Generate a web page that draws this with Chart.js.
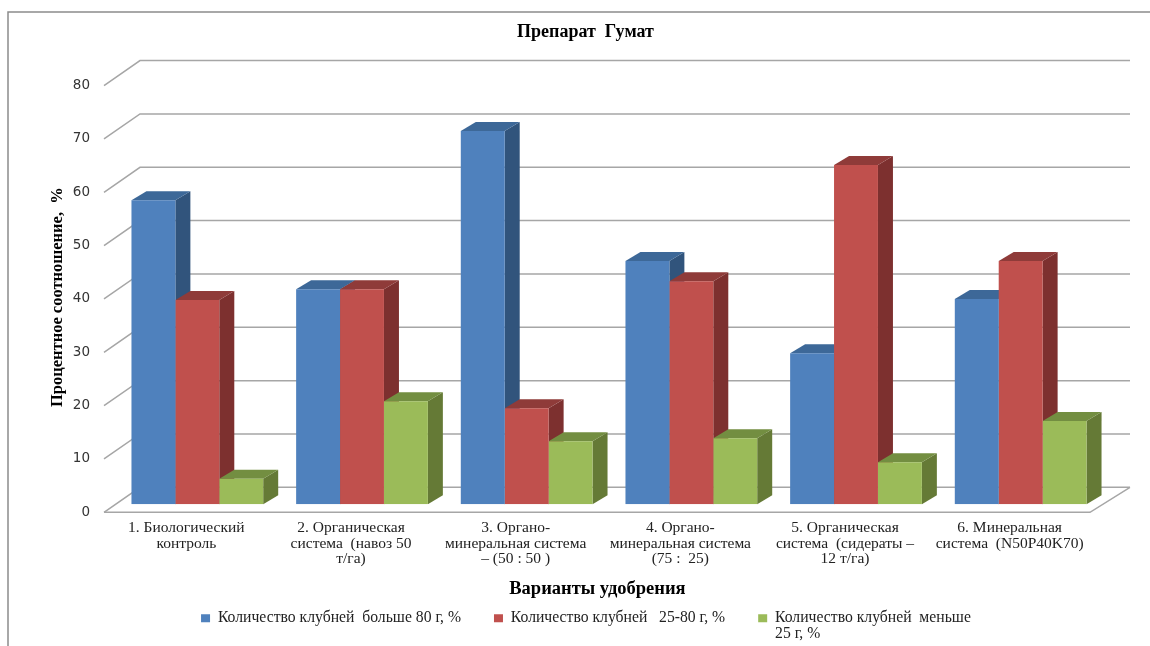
<!DOCTYPE html>
<html lang="ru">
<head>
<meta charset="utf-8">
<title>Препарат Гумат</title>
<script src="https://cdn.jsdelivr.net/npm/chart.js@4"></script>
<style>
  html, body { margin: 0; padding: 0; background: #fff; }
  #wrap { width: 1150px; height: 646px; }
</style>
</head>
<body>
<div id="wrap"><canvas id="chart" width="1150" height="646"></canvas></div>
<script>
const categories = [
  ["1. Биологический", "контроль"],
  ["2. Органическая", "система  (навоз 50", "т/га)"],
  ["3. Органо-", "минеральная система", "– (50 : 50 )"],
  ["4. Органо-", "минеральная система", "(75 :  25)"],
  ["5. Органическая", "система  (сидераты –", "12 т/га)"],
  ["6. Минеральная", "система  (N50P40K70)"],
];
const seriesLabels = [
  "Количество клубней  больше 80 г, %",
  "Количество клубней   25-80 г, %",
  ["Количество клубней  меньше", "25 г, %"],
];
const over80 = [57, 40.3, 70, 45.6, 28.3, 38.5];
const from25to80 = [38.3, 40.3, 18, 41.8, 63.6, 45.6];
const under25 = [4.8, 19.3, 11.8, 12.4, 7.9, 15.6];
const yTicks = [0, 10, 20, 30, 40, 50, 60, 70, 80];

// front, top and side shades per series
const shades = [
  { front: "#4f81bd", top: "#3d6898", side: "#31547c" },
  { front: "#c0504d", top: "#8f3b39", side: "#7d302f" },
  { front: "#9bbb59", top: "#738e41", side: "#657a36" },
];

const serif = "'Liberation Serif', serif";
const depth = { dx: 15, dy: 9 };      // bar extrusion
const wall = { dx: 25, dy: 17 };      // bars plane -> back wall
const floorFront = { dx: -11, dy: 8 }; // bars plane -> front edge of the floor

function poly(ctx, pts, fill) {
  ctx.beginPath();
  pts.forEach((p, i) => (i ? ctx.lineTo(p[0], p[1]) : ctx.moveTo(p[0], p[1])));
  ctx.closePath();
  ctx.fillStyle = fill;
  ctx.fill();
}

// pseudo-3D box: back wall grid, slanted ticks, floor, bar tops and sides
const box3d = {
  id: "box3d",
  afterLayout(chart) {
    // title and legend are centred a bit right of the plot
    chart.titleBlock.left += 44;
    chart.legend.left += 94;
    // the legend clips to its box, leave room for the wrapped second line
    chart.legend.bottom += 10;
  },
  beforeDatasetsDraw(chart) {
    const { ctx, chartArea: area, scales } = chart;
    const y = scales.y;
    ctx.save();

    // outer frame, open on the right
    ctx.strokeStyle = "#8c8c8c";
    ctx.lineWidth = 1.5;
    ctx.beginPath();
    ctx.moveTo(8, 646);
    ctx.lineTo(8, 12);
    ctx.lineTo(1150, 12);
    ctx.stroke();

    ctx.strokeStyle = "#a6a6a6";
    ctx.lineWidth = 1.5;
    yTicks.forEach((t) => {
      const py = y.getPixelForValue(t);
      ctx.beginPath();
      ctx.moveTo(area.left + floorFront.dx, py + floorFront.dy);
      ctx.lineTo(area.left + wall.dx, py - wall.dy);
      ctx.lineTo(area.right + wall.dx + 2, py - wall.dy);
      ctx.stroke();
    });
    // floor outline
    const p0 = y.getPixelForValue(0);
    ctx.beginPath();
    ctx.moveTo(area.left + floorFront.dx, p0 + floorFront.dy);
    ctx.lineTo(area.right - 13, p0 + floorFront.dy);
    ctx.lineTo(area.right + wall.dx + 2, p0 - wall.dy);
    ctx.stroke();

    chart.data.datasets.forEach((ds, i) => {
      chart.getDatasetMeta(i).data.forEach((bar) => {
        const half = bar.width / 2;
        const l = bar.x - half, r = bar.x + half, t = bar.y, b = bar.base;
        const { dx, dy } = depth;
        poly(ctx, [[r, t], [r + dx, t - dy], [r + dx, b - dy], [r, b]], shades[i].side);
        poly(ctx, [[l, t], [l + dx, t - dy], [r + dx, t - dy], [r, t]], shades[i].top);
      });
    });
    ctx.restore();
  },
};

new Chart(document.getElementById("chart"), {
  type: "bar",
  data: {
    labels: categories,
    datasets: [over80, from25to80, under25].map((values, i) => ({
      label: seriesLabels[i],
      data: values,
      backgroundColor: shades[i].front,
      borderWidth: 0,
      categoryPercentage: 0.8,
      barPercentage: 1,
    })),
  },
  options: {
    responsive: false,
    animation: false,
    layout: { padding: { left: 24, right: 47, top: 22, bottom: 10 } },
    plugins: {
      title: {
        display: true,
        text: "Препарат  Гумат",
        color: "#000",
        font: { family: serif, size: 18, weight: "bold" },
        padding: { top: 0, bottom: 34 },
      },
      legend: {
        position: "bottom",
        labels: {
          boxWidth: 9,
          boxHeight: 8,
          padding: 33,
          color: "#222",
          font: { family: serif, size: 15.7, lineHeight: 1.02 },
        },
      },
      tooltip: { enabled: false },
    },
    scales: {
      x: {
        grid: { display: false },
        border: { display: false },
        afterFit: (s) => { s.height = 73; },
        ticks: {
          maxRotation: 0,
          autoSkip: false,
          labelOffset: -11,
          padding: 8,
          color: "#222",
          font: { family: serif, size: 15.5, lineHeight: 1 },
        },
        title: {
          display: true,
          text: "Варианты удобрения" + " ".repeat(5),
          color: "#000",
          padding: { top: 4, bottom: -23 },
          font: { family: serif, size: 18.5, weight: "bold" },
        },
      },
      y: {
        min: 0,
        max: 80,
        grid: { display: false },
        border: { display: false },
        afterFit: (s) => { s.width = 91; },
        afterBuildTicks: (s) => { s.ticks = yTicks.map((v) => ({ value: v })); },
        ticks: {
          labelOffset: 8,
          padding: 17,
          color: "#333",
          font: { family: "'DejaVu Sans', sans-serif", size: 13.5 },
        },
        title: {
          display: true,
          text: "Процентное соотношение,  %" + " ".repeat(3),
          color: "#000",
          padding: { top: 24, bottom: 0 },
          font: { family: serif, size: 16.5, weight: "bold" },
        },
      },
    },
  },
  plugins: [box3d],
});
</script>
</body>
</html>
